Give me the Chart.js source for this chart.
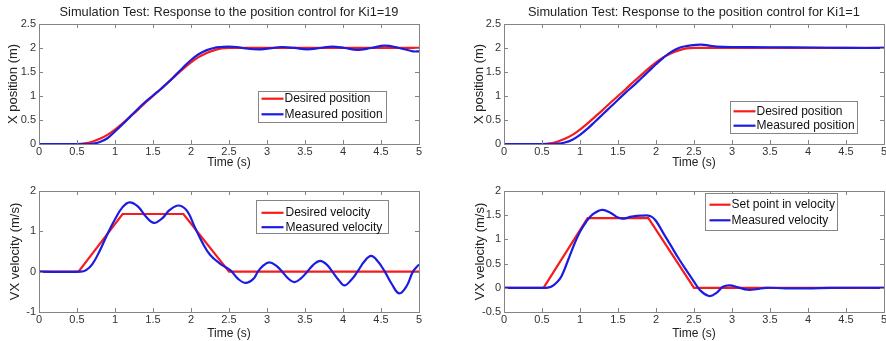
<!DOCTYPE html>
<html>
<head>
<meta charset="utf-8">
<script src="https://cdn.jsdelivr.net/npm/chart.js@4.4.0/dist/chart.umd.min.js"></script>
<style>
body { margin: 0; background: #fff; }
#wrap { position: relative; width: 886px; height: 341px; }
canvas { position: absolute; }
</style>
</head>
<body>
<div id="wrap">
<canvas id="posKi19" width="443" height="170" style="left:0;top:0"></canvas>
<canvas id="posKi1" width="443" height="170" style="left:443px;top:0"></canvas>
<canvas id="velKi19" width="443" height="171" style="left:0;top:170px"></canvas>
<canvas id="velKi1" width="443" height="171" style="left:443px;top:170px"></canvas>
</div>
<script>
// desired position (same reference in both runs)
const timePosSet = [0, 0.5, 0.6, 0.7, 0.8, 0.9, 1.0, 1.1, 1.2, 1.3, 1.4, 1.5, 1.6, 1.7, 1.8, 1.9, 2.0, 2.1, 2.2, 2.3, 2.4, 2.5, 5];
const posSet = [0, 0, 0.012, 0.048, 0.107, 0.19, 0.30, 0.43, 0.57, 0.71, 0.86, 1.0, 1.14, 1.29, 1.43, 1.57, 1.70, 1.81, 1.89, 1.95, 1.99, 2.0, 2.0];

// measured position, Ki1=19
const timePosMeasKi19 = [0, 0.6, 0.7, 0.8, 0.9, 1.0, 1.1, 1.2, 1.3, 1.4, 1.5, 1.6, 1.7, 1.8, 1.9, 2.0, 2.1, 2.2, 2.3, 2.4, 2.5, 2.6, 2.72, 2.88, 3.03, 3.2, 3.36, 3.53, 3.7, 3.86, 4.02, 4.19, 4.37, 4.55, 4.74, 4.92, 5.0];
const posMeasKi19 = [0, 0, 0.005, 0.04, 0.12, 0.26, 0.41, 0.57, 0.73, 0.88, 1.01, 1.14, 1.28, 1.44, 1.6, 1.75, 1.87, 1.95, 2.0, 2.02, 2.03, 2.02, 1.99, 1.97, 1.99, 2.02, 2.0, 1.97, 2.0, 2.03, 2.0, 1.96, 2.0, 2.05, 2.0, 1.93, 1.93];

// measured position, Ki1=1
const timePosMeasKi1 = [0, 0.6, 0.7, 0.8, 0.9, 1.0, 1.1, 1.2, 1.3, 1.4, 1.5, 1.6, 1.7, 1.8, 1.9, 2.0, 2.1, 2.2, 2.3, 2.4, 2.5, 2.6, 2.7, 2.8, 3.0, 3.5, 4.0, 4.5, 5.0];
const posMeasKi1 = [0, 0, 0.005, 0.03, 0.09, 0.19, 0.32, 0.47, 0.62, 0.77, 0.92, 1.07, 1.21, 1.36, 1.51, 1.66, 1.8, 1.92, 2.0, 2.04, 2.06, 2.07, 2.05, 2.03, 2.02, 2.015, 2.01, 2.0, 2.0];

// velocity set points
const timeVelSet = [0, 0.52, 1.1, 1.9, 2.5, 5];
const velSetKi19 = [0, 0, 1.43, 1.43, 0, 0];
const velSetKi1 = [0, 0, 1.44, 1.44, 0, 0];

// measured velocity, Ki1=19
const timeVelMeasKi19 = [0, 0.55, 0.62, 0.7, 0.8, 0.9, 1.0, 1.1, 1.19, 1.3, 1.4, 1.51, 1.62, 1.72, 1.84, 1.95, 2.05, 2.15, 2.25, 2.38, 2.52, 2.62, 2.72, 2.82, 2.88, 2.95, 3.03, 3.12, 3.2, 3.28, 3.36, 3.45, 3.53, 3.61, 3.7, 3.79, 3.86, 3.94, 4.02, 4.11, 4.19, 4.28, 4.37, 4.46, 4.55, 4.64, 4.74, 4.84, 4.92, 5.0];
const velMeasKi19 = [0, 0, 0.04, 0.18, 0.52, 0.93, 1.3, 1.6, 1.72, 1.62, 1.38, 1.21, 1.32, 1.53, 1.64, 1.5, 1.1, 0.72, 0.42, 0.2, 0.03, -0.18, -0.28, -0.18, 0, 0.15, 0.23, 0.15, 0, -0.17, -0.26, -0.16, 0, 0.17, 0.27, 0.17, 0, -0.2, -0.34, -0.2, 0, 0.25, 0.39, 0.25, 0, -0.3, -0.54, -0.35, 0, 0.18];

// measured velocity, Ki1=1
const timeVelMeasKi1 = [0, 0.55, 0.62, 0.7, 0.76, 0.85, 0.93, 1.0, 1.08, 1.17, 1.29, 1.4, 1.5, 1.57, 1.68, 1.8, 1.93, 2.0, 2.1, 2.2, 2.3, 2.4, 2.5, 2.58, 2.7, 2.8, 2.88, 2.97, 3.08, 3.2, 3.32, 3.45, 3.7, 4.0, 4.3, 5.0];
const velMeasKi1 = [0, 0, 0.02, 0.12, 0.25, 0.6, 0.92, 1.16, 1.36, 1.52, 1.61, 1.55, 1.45, 1.43, 1.47, 1.49, 1.48, 1.38, 1.12, 0.86, 0.6, 0.36, 0.13, -0.05, -0.17, -0.1, 0.02, 0.05, 0.01, -0.04, -0.03, 0, -0.01, -0.01, 0, 0];

const RED = "#f41c1c";
const BLUE = "#1c1ce0";
const FRAME = "#858585";

Chart.defaults.font.family = "'Liberation Sans', Arial, sans-serif";

function pairs(t, v) {
    return t.map((x, i) => ({ x: x, y: v[i] }));
}

function fmt(v) {
    return String(Math.round(v * 100) / 100);
}

// matlab style box with inward ticks, plus the boxed legend
const matlabFrame = {
    id: "matlabFrame",
    afterDatasetsDraw(chart) {
        const ctx = chart.ctx, a = chart.chartArea;
        const sx = chart.scales.x, sy = chart.scales.y;
        ctx.save();
        ctx.strokeStyle = FRAME;
        ctx.lineWidth = 1;
        ctx.beginPath();
        sx.ticks.forEach(t => {
            const px = Math.round(sx.getPixelForValue(t.value)) + 0.5;
            ctx.moveTo(px, a.bottom); ctx.lineTo(px, a.bottom - 4);
            ctx.moveTo(px, a.top); ctx.lineTo(px, a.top + 4);
        });
        sy.ticks.forEach(t => {
            const py = Math.round(sy.getPixelForValue(t.value)) + 0.5;
            ctx.moveTo(a.left, py); ctx.lineTo(a.left + 4, py);
            ctx.moveTo(a.right, py); ctx.lineTo(a.right - 4, py);
        });
        ctx.stroke();
        ctx.strokeRect(Math.round(a.left) + 0.5, Math.round(a.top) + 0.5, Math.round(a.right - a.left), Math.round(a.bottom - a.top));
        ctx.restore();
    },
    afterDraw(chart) {
        const o = chart.options.plugins.boxLegend;
        if (!o) return;
        const ctx = chart.ctx, a = chart.chartArea;
        const x = Math.round(a.left + o.x) + 0.5, y = Math.round(a.top + o.y) + 0.5;
        ctx.save();
        ctx.fillStyle = "#fff";
        ctx.fillRect(x, y, o.w, o.h);
        ctx.strokeStyle = FRAME;
        ctx.lineWidth = 1;
        ctx.strokeRect(x, y, o.w, o.h);
        ctx.font = "12px 'Liberation Sans', Arial, sans-serif";
        ctx.textBaseline = "middle";
        ctx.fillStyle = "#111";
        chart.data.datasets.forEach((ds, i) => {
            const ry = y + o.mid + (i === 0 ? -o.gap : o.gap);
            ctx.strokeStyle = ds.borderColor;
            ctx.lineWidth = 2.2;
            ctx.beginPath();
            ctx.moveTo(x + o.l1, ry); ctx.lineTo(x + o.l2, ry);
            ctx.stroke();
            ctx.fillText(ds.label, x + o.tx, ry);
        });
        ctx.restore();
    }
};

function plotChart(id, o) {
    return new Chart(id, {
        type: "line",
        data: {
            datasets: [{
                label: o.labels[0],
                data: pairs(o.t1, o.y1),
                borderColor: RED,
                borderWidth: 2.2,
                pointRadius: 0,
                tension: o.smooth1 ? 0.4 : 0,
                cubicInterpolationMode: o.smooth1 ? "monotone" : "default",
                order: 2
            }, {
                label: o.labels[1],
                data: pairs(o.t2, o.y2),
                borderColor: BLUE,
                borderWidth: 2.2,
                pointRadius: 0,
                tension: 0.4,
                order: 1
            }]
        },
        options: {
            responsive: false,
            animation: false,
            events: [],
            layout: { padding: { top: o.padTop, right: o.padRight, left: 0, bottom: 0 } },
            plugins: {
                legend: { display: false },
                tooltip: { enabled: false },
                title: {
                    display: !!o.title,
                    text: o.title,
                    fullSize: false,
                    color: "#222",
                    font: { size: 12.8, weight: "normal" },
                    padding: { top: 4.5, bottom: 4.1 }
                },
                boxLegend: o.legend
            },
            scales: {
                x: {
                    type: "linear",
                    min: 0, max: 5,
                    grid: { display: false, drawTicks: false },
                    border: { display: false },
                    ticks: { stepSize: 0.5, padding: 1, color: "#333", font: { size: 11 }, callback: fmt, maxRotation: 0, autoSkip: false },
                    title: { display: true, text: "Time (s)", color: "#222", font: { size: 12 }, padding: { top: 0, bottom: o.xTitlePad } },
                    afterFit: s => { s.height = o.xh; s.paddingLeft = 0; s.paddingRight = 0; }
                },
                y: {
                    min: o.ymin, max: o.ymax,
                    grid: { display: false, drawTicks: false },
                    border: { display: false },
                    ticks: { stepSize: o.ystep, padding: 3, color: "#333", font: { size: 11 }, callback: fmt, autoSkip: false },
                    title: { display: true, text: o.ylabel, color: "#222", font: { size: 13 }, padding: { top: o.yTitlePad, bottom: 0 } },
                    afterFit: s => { s.width = o.yw; s.paddingTop = 0; s.paddingBottom = 0; }
                }
            }
        },
        plugins: [matlabFrame]
    });
}

plotChart("posKi19", {
    title: "Simulation Test: Response to the position control for Ki1=19",
    labels: ["Desired position", "Measured position"],
    t1: timePosSet, y1: posSet, smooth1: true,
    t2: timePosMeasKi19, y2: posMeasKi19,
    ymin: 0, ymax: 2.5, ystep: 0.5, ylabel: "X position (m)",
    padTop: 0, padRight: 24, yw: 39, xh: 26, xTitlePad: 0, yTitlePad: 5.2,
    legend: { x: 219, y: 67, w: 128, h: 31, mid: 15, gap: 7.8, l1: 3, l2: 25, tx: 26 }
});

plotChart("posKi1", {
    title: "Simulation Test: Response to the position control for Ki1=1",
    labels: ["Desired position", "Measured position"],
    t1: timePosSet, y1: posSet, smooth1: true,
    t2: timePosMeasKi1, y2: posMeasKi1,
    ymin: 0, ymax: 2.5, ystep: 0.5, ylabel: "X position (m)",
    padTop: 0, padRight: 2, yw: 61, xh: 26, xTitlePad: 0, yTitlePad: 28.9,
    legend: { x: 226, y: 77, w: 127, h: 32, mid: 17, gap: 7.2, l1: 3, l2: 25, tx: 26 }
});

plotChart("velKi19", {
    title: "",
    labels: ["Desired velocity", "Measured velocity"],
    t1: timeVelSet, y1: velSetKi19, smooth1: false,
    t2: timeVelMeasKi19, y2: velMeasKi19,
    ymin: -1, ymax: 2, ystep: 1, ylabel: "VX velocity (m/s)",
    padTop: 21, padRight: 24, yw: 39, xh: 29, xTitlePad: 0.5, yTitlePad: 7.2,
    legend: { x: 217, y: 9, w: 132, h: 33, mid: 19.5, gap: 7.2, l1: 5, l2: 27, tx: 29 }
});

plotChart("velKi1", {
    title: "",
    labels: ["Set point in velocity", "Measured velocity"],
    t1: timeVelSet, y1: velSetKi1, smooth1: false,
    t2: timeVelMeasKi1, y2: velMeasKi1,
    ymin: -0.5, ymax: 2, ystep: 0.5, ylabel: "VX velocity (m/s)",
    padTop: 21, padRight: 2, yw: 61, xh: 29, xTitlePad: 0.5, yTitlePad: 29.2,
    legend: { x: 201, y: 2, w: 132, h: 37, mid: 19, gap: 7.8, l1: 4, l2: 25, tx: 26 }
});
</script>
</body>
</html>
